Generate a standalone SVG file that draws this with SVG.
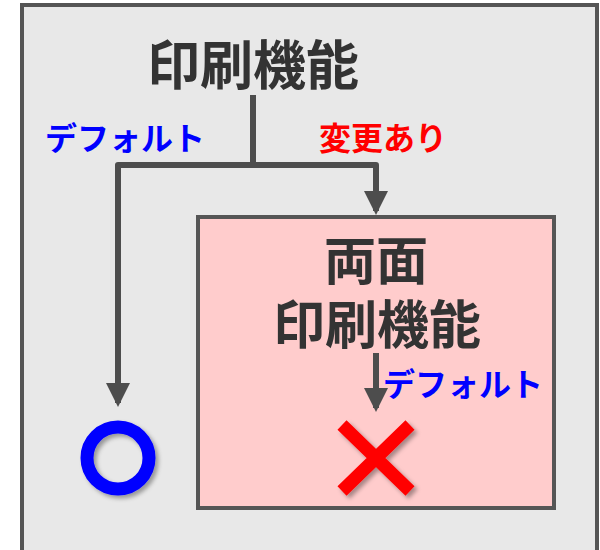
<svg xmlns="http://www.w3.org/2000/svg" width="600" height="550" viewBox="0 0 600 550">
<style>
.ttl{font-family:"Noto Sans CJK JP","Noto Sans",sans-serif;font-weight:bold;fill:#333333;text-anchor:middle}
.lbl{font-family:"Noto Sans CJK JP","Noto Sans",sans-serif;font-weight:bold;font-size:32px}
.ln{fill:none;stroke:#4d4d4d;stroke-width:6;stroke-linejoin:round}
</style>
<defs>
<marker id="ah" viewBox="0 0 24 24" markerWidth="24" markerHeight="24" refX="20" refY="12" orient="auto" markerUnits="userSpaceOnUse">
<path d="M0,0 L24,12 L0,24 Z" fill="#4d4d4d"/>
</marker>
<filter id="sh" x="-30%" y="-30%" width="160%" height="160%">
<feDropShadow dx="3" dy="3" stdDeviation="2" flood-color="#000" flood-opacity="0.35"/>
</filter>
</defs>
<rect x="22" y="5" width="575" height="560" fill="#e8e8e8" stroke="#555555" stroke-width="4"/>
<g id="print">
<text class="ttl" x="253" y="85" font-size="53">印刷機能</text>
</g>
<g id="duplex">
<rect x="198" y="217" width="356" height="291" fill="#ffcccc" stroke="#555555" stroke-width="4"/>
<text class="ttl" font-size="52"><tspan x="376" y="280">両面</tspan><tspan x="377" y="344">印刷機能</tspan></text>
</g>
<g id="ok">
<circle cx="118" cy="458" r="31" fill="none" stroke="#0000ff" stroke-width="13" filter="url(#sh)"/>
</g>
<g id="ng" filter="url(#sh)">
<path d="M342,425 L410,491 M410,425 L342,491" stroke="#ff0000" stroke-width="13" fill="none"/>
</g>
<g id="connectors">
<path class="ln" d="M253,95 L253,165"/>
<path class="ln" d="M253,165 L118,165 L118,403" marker-end="url(#ah)"/>
<path class="ln" d="M253,165 L376,165 L376,211" marker-end="url(#ah)"/>
<path class="ln" d="M376,353 L376,408" marker-end="url(#ah)"/>
<text class="lbl" x="45" y="150" fill="#0000ff">デフォルト</text>
<text class="lbl" x="319" y="150" fill="#ff0000">変更あり</text>
<text class="lbl" x="383" y="396" fill="#0000ff">デフォルト</text>
</g>
</svg>
